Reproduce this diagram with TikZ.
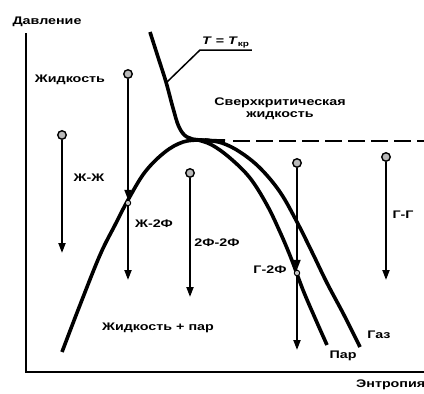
\documentclass[tikz,border=0pt]{standalone}
\usepackage{fontspec}
\setmainfont[FakeStretch=1.3]{Liberation Sans}
\usetikzlibrary{arrows.meta}
\begin{document}
\begin{tikzpicture}[x=1pt, y=-1pt, font=\bfseries\fontsize{11}{12.5}\selectfont,
  dome/.style={line width=3.6pt, line join=round},
  proc/.style={line width=1.9pt, -{Triangle[length=10pt, width=7pt]}},
  state/.style={circle, draw, line width=1.4pt, fill=gray!55, inner sep=0pt, minimum size=8.5pt},
  cross/.style={circle, draw, line width=0.9pt, fill=gray!45, inner sep=0pt, minimum size=5.5pt},
  lbl/.style={inner sep=1pt}]

  \useasboundingbox (0,0) rectangle (424,394);

  % ---- axes ----
  \node[lbl] (ylab) at (47,22) {Давление};
  \node[lbl, anchor=west] (xlab) at (355,385) {Энтропия};
  \draw[line width=1.4pt] (26,33) -- (26,372);
  \draw[line width=2pt] (25.3,372) -- (424,372);

  % ---- saturation dome ----
  % left branch (liquid), right branches: vapour (inner) and gas (outer)
  \draw[dome] plot[smooth, tension=0.6] coordinates {(62,352) (80,305) (100,255)
    (115,225) (128,200) (145,172) (165,152) (183,142) (200,140) (212,141)};
  \draw[dome] plot[smooth, tension=0.6] coordinates {(198,140) (212,145) (230,158)
    (250,178) (267,205) (280,232) (291,258) (303,290) (315,318) (327,345)};
  \draw[dome] plot[smooth, tension=0.6] coordinates {(205,140) (222,143) (240,152)
    (260,168) (280,192) (297,222) (312,252) (327,283) (344,315) (360,347)};
  \node[lbl] (par) at (343,356) {Пар};
  \node[lbl] (gaz) at (379,335) {Газ};

  % ---- critical isotherm T = T_kr ----
  \draw[dome] plot[smooth, tension=0.6] coordinates {(150,32) (158,57) (166,82)
    (173,108) (179,127) (187,137) (200,140) (225,141)};
  \draw[line width=2.2pt, dash pattern=on 17pt off 6pt] (233,141) -- (424,141);
  \node[lbl, anchor=south west, inner sep=2pt] (tcr) at (200,50)
    {\textit{T} = \textit{T}\textsubscript{кр}};
  \coordinate (tpt) at (167,82);
  \draw[line width=1.5pt] (tpt) -- (tcr.south west) -- (tcr.south east);

  % ---- region labels ----
  \node[lbl] (liq) at (70,80) {Жидкость};
  \node[lbl, align=center] (scf) at (280,109) {Сверхкритическая\\жидкость};
  \node[lbl] (mix) at (158,328) {Жидкость + пар};

  % ---- processes: start state (circle) and path down ----
  \foreach \nm/\x/\yt/\yb in {jj/62/135/253, ff/190/173/297, gg/386/157/280} {
    \node[state] (\nm top) at (\x,\yt) {};
    \coordinate (\nm bot) at (\x,\yb);
    \draw[proc] (\nm top) -- (\nm bot);
  }
  % processes that cross the dome
  \foreach \nm/\x/\yt/\ym/\yb in {jf/128/74/203/280, gf/297/163/273/350} {
    \node[state] (\nm top) at (\x,\yt) {};
    \node[cross] (\nm mid) at (\x,\ym) {};
    \coordinate (\nm bot) at (\x,\yb);
    \draw[proc] (\nm top) -- (\nm mid);
    \draw[proc] (\nm mid) -- (\nm bot);
  }

  % process labels
  \node[lbl] (ljj) at (89,178) {Ж-Ж};
  \node[lbl] (ljf) at (154,224) {Ж-2Ф};
  \node[lbl] (lff) at (217,243) {2Ф-2Ф};
  \node[lbl] (lgf) at (270,270) {Г-2Ф};
  \node[lbl] (lgg) at (403,215) {Г-Г};

\end{tikzpicture}
\end{document}
